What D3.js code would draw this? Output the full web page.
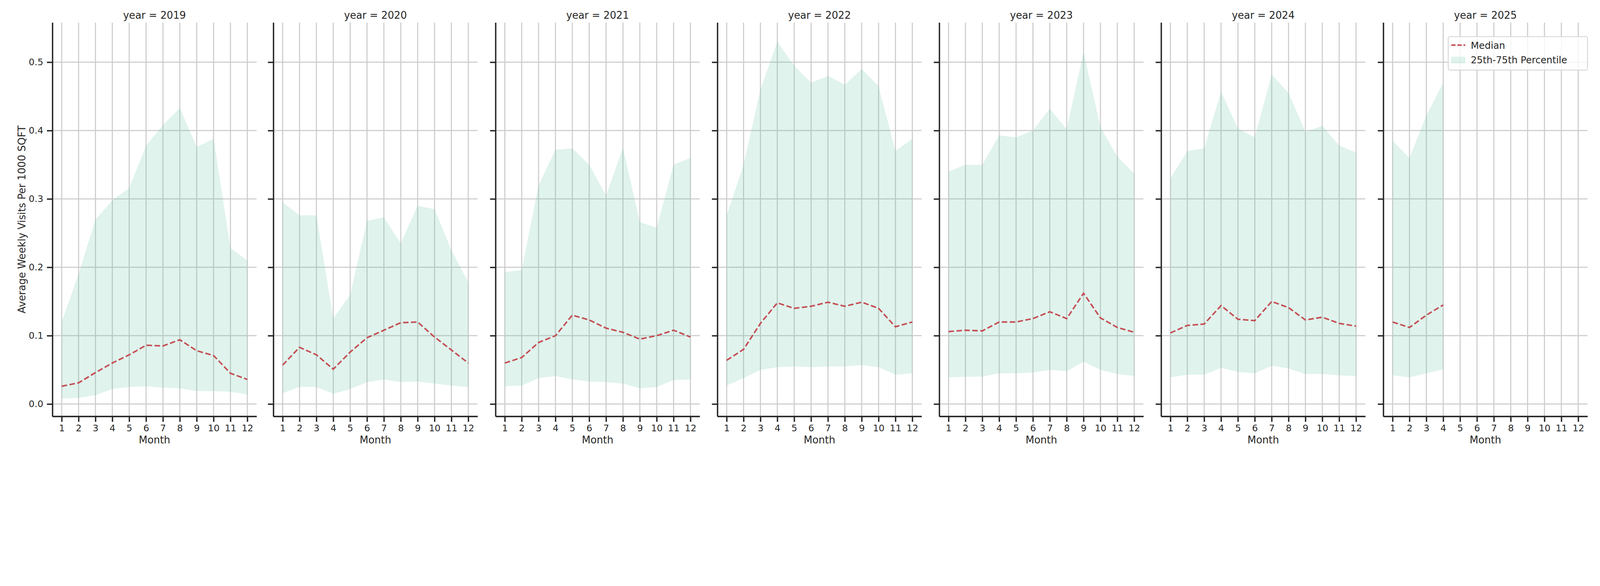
<!DOCTYPE html>
<html><head><meta charset="utf-8">
<script src="https://cdn.jsdelivr.net/npm/d3@7"></script>
<style>html,body{margin:0;background:#fff;overflow:hidden}svg{display:block}</style>
</head><body>
<script>
var years = [2019, 2020, 2021, 2022, 2023, 2024, 2025]
var months = [1,2,3,4,5,6,7,8,9,10,11,12]
var yTicks = [0.0, 0.1, 0.2, 0.3, 0.4, 0.5]
var upper = [
	[0.12,0.19,0.27,0.298,0.316,0.378,0.408,0.433,0.376,0.388,0.228,0.21],
	[0.295,0.276,0.276,0.125,0.16,0.268,0.273,0.235,0.29,0.285,0.225,0.178],
	[0.193,0.196,0.32,0.372,0.374,0.35,0.305,0.375,0.266,0.258,0.35,0.36],
	[0.276,0.35,0.46,0.53,0.495,0.47,0.48,0.467,0.49,0.465,0.37,0.388],
	[0.34,0.35,0.35,0.393,0.39,0.4,0.432,0.402,0.515,0.405,0.362,0.337],
	[0.33,0.37,0.374,0.457,0.403,0.39,0.482,0.455,0.398,0.407,0.378,0.368],
	[0.385,0.36,0.422,0.47]
]
var median = [
	[0.026,0.031,0.046,0.06,0.072,0.086,0.085,0.094,0.078,0.071,0.045,0.036],
	[0.057,0.083,0.072,0.051,0.076,0.097,0.108,0.119,0.12,0.098,0.079,0.06],
	[0.06,0.068,0.09,0.1,0.13,0.123,0.111,0.105,0.095,0.1,0.108,0.098],
	[0.064,0.08,0.118,0.148,0.14,0.143,0.149,0.143,0.149,0.14,0.113,0.12],
	[0.106,0.108,0.107,0.12,0.12,0.125,0.135,0.125,0.162,0.126,0.112,0.105],
	[0.104,0.115,0.117,0.144,0.124,0.122,0.15,0.141,0.123,0.127,0.118,0.114],
	[0.12,0.112,0.13,0.145]
]
var lower = [
	[0.008,0.009,0.013,0.022,0.025,0.026,0.024,0.023,0.019,0.019,0.018,0.014],
	[0.016,0.025,0.025,0.015,0.022,0.032,0.036,0.032,0.033,0.03,0.027,0.025],
	[0.026,0.027,0.038,0.041,0.036,0.033,0.032,0.03,0.023,0.025,0.035,0.036],
	[0.027,0.038,0.05,0.054,0.055,0.054,0.055,0.055,0.057,0.054,0.043,0.045],
	[0.039,0.04,0.04,0.045,0.045,0.046,0.05,0.048,0.062,0.05,0.044,0.041],
	[0.039,0.043,0.043,0.053,0.047,0.045,0.056,0.052,0.044,0.044,0.042,0.041],
	[0.042,0.039,0.045,0.051]
]

function main() {
	var width = 5250, height = 1500
	var panelLeft = [172, 897, 1626, 2354, 3082, 3810, 4539]
	var pw = 670, top = 74, bottom = 1366
	var font = 'DejaVu Sans, sans-serif'
	// scale the drawing to whatever the viewport really is
	var svg = d3.select('body').append('svg')
		.attr('viewBox', '0 0 ' + width + ' ' + height)
		.attr('preserveAspectRatio', 'xMinYMin meet')
		.style('width', '100vw').style('height', '100vh')
	var x = d3.scaleLinear().domain([0.45, 12.55]).range([0, pw])
	var y = d3.scaleLinear().domain([-0.018, 0.558]).range([bottom, top])

	years.forEach(function(yr, i) {
		var g = svg.append('g').attr('transform', 'translate(' + panelLeft[i] + ',0)')
		g.selectAll('.hg').data(yTicks).enter().append('line')
			.attr('x1', 0).attr('x2', pw)
			.attr('y1', function(d){ return y(d) }).attr('y2', function(d){ return y(d) })
			.attr('stroke', '#cccccc').attr('stroke-width', 3.5)
		g.selectAll('.vg').data(months).enter().append('line')
			.attr('x1', function(d){ return x(d) }).attr('x2', function(d){ return x(d) })
			.attr('y1', top).attr('y2', bottom)
			.attr('stroke', '#cccccc').attr('stroke-width', 3.5)

		var pts = upper[i].map(function(u, j){ return {m: months[j], u: u, l: lower[i][j], md: median[i][j]} })
		g.append('path').datum(pts)
			.attr('d', d3.area().x(function(d){ return x(d.m) }).y0(function(d){ return y(d.l) }).y1(function(d){ return y(d.u) }))
			.attr('fill', '#66c2a5').attr('fill-opacity', 0.2)
		g.append('path').datum(pts)
			.attr('d', d3.line().x(function(d){ return x(d.m) }).y(function(d){ return y(d.md) }))
			.attr('fill', 'none').attr('stroke', '#c44e52').attr('stroke-width', 5)
			.attr('stroke-dasharray', '18,8')

		var xa = g.append('g').attr('transform', 'translate(0,' + bottom + ')')
			.call(d3.axisBottom(x).tickValues(months).tickSize(18).tickPadding(10).tickSizeOuter(0))
		var ya = g.append('g')
			.call(d3.axisLeft(y).tickValues(yTicks).tickSize(18).tickPadding(12).tickSizeOuter(0)
				.tickFormat(i === 0 ? d3.format('.1f') : function(){ return '' }))
		;[xa, ya].forEach(function(a){
			a.select('.domain').attr('stroke', '#262626').attr('stroke-width', 4.5)
			a.selectAll('.tick line').attr('stroke', '#262626').attr('stroke-width', 4.5)
			a.selectAll('text').attr('font-family', font).attr('font-size', 30).attr('fill', '#262626')
		})
		g.append('text').attr('x', pw / 2).attr('y', 62).attr('text-anchor', 'middle')
			.attr('font-family', font).attr('font-size', 33).attr('fill', '#262626')
			.text('year = ' + yr)
		g.append('text').attr('x', pw / 2).attr('y', 1455).attr('text-anchor', 'middle')
			.attr('font-family', font).attr('font-size', 33).attr('fill', '#262626')
			.text('Month')
	})

	svg.append('text').attr('transform', 'translate(83,' + ((top + bottom) / 2) + ') rotate(-90)')
		.attr('text-anchor', 'middle').attr('font-family', font).attr('font-size', 33).attr('fill', '#262626')
		.text('Average Weekly Visits Per 1000 SQFT')

	var lg = svg.append('g').attr('transform', 'translate(4752,120)')
	lg.append('rect').attr('width', 457).attr('height', 110).attr('rx', 6)
		.attr('fill', '#fff').attr('fill-opacity', 0.8).attr('stroke', '#d6d6d6').attr('stroke-width', 3)
	lg.append('line').attr('x1', 10).attr('x2', 56).attr('y1', 28).attr('y2', 28)
		.attr('stroke', '#c44e52').attr('stroke-width', 5).attr('stroke-dasharray', '14,6')
	lg.append('rect').attr('x', 10).attr('y', 66).attr('width', 46).attr('height', 22)
		.attr('fill', '#66c2a5').attr('fill-opacity', 0.2)
	lg.append('text').attr('x', 74).attr('y', 40).attr('font-family', font).attr('font-size', 31)
		.attr('fill', '#262626').text('Median')
	lg.append('text').attr('x', 74).attr('y', 88).attr('font-family', font).attr('font-size', 31)
		.attr('fill', '#262626').text('25th-75th Percentile')
}
main()
</script>
</body></html>
